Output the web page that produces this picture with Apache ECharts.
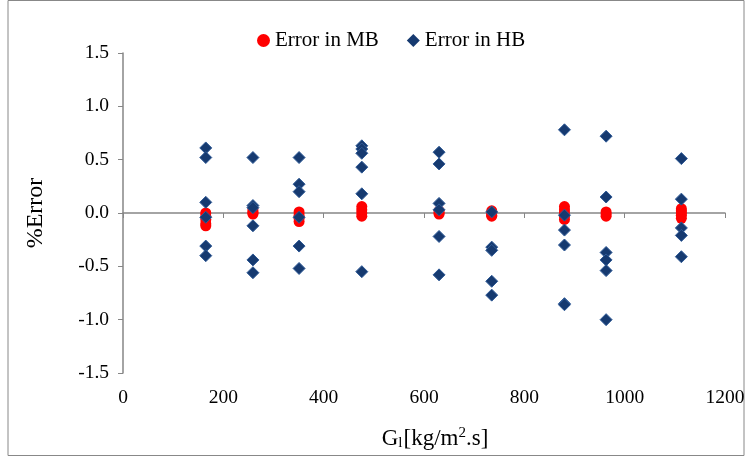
<!DOCTYPE html>
<html>
<head>
<meta charset="utf-8">
<script src="https://cdn.jsdelivr.net/npm/echarts@6/dist/echarts.min.js"></script>
<style>
  html, body { margin: 0; padding: 0; background: #fff; }
  #chart { width: 750px; height: 457px; }
</style>
</head>
<body>
<div id="chart"></div>
<script>
// mass flux of each test group, kg/m2.s
const gFlux = [165, 259, 351, 476, 630, 735, 880, 963, 1113];

// % error per group
const errMB = [
  [0.0, -0.03, -0.06, -0.1, -0.12],
  [0.03, 0.01, 0.0, -0.01],
  [0.01, -0.02, -0.05, -0.08],
  [0.06, 0.03, 0.0, -0.03],
  [0.02, 0.0, -0.01],
  [0.02, 0.0, -0.02, -0.03],
  [0.06, 0.03, 0.0, -0.03, -0.06],
  [0.01, -0.01, -0.03],
  [0.04, 0.02, 0.0, -0.02, -0.05]
];
const errHB = [
  [0.61, 0.52, 0.10, -0.04, -0.31, -0.40],
  [0.52, 0.07, 0.05, -0.12, -0.44, -0.56],
  [0.52, 0.27, 0.20, -0.04, -0.31, -0.52],
  [0.63, 0.60, 0.56, 0.43, 0.18, -0.55],
  [0.57, 0.46, 0.09, 0.03, -0.22, -0.58],
  [0.01, -0.32, -0.35, -0.64, -0.77],
  [0.78, -0.02, -0.16, -0.30, -0.85, -0.86],
  [0.72, 0.15, -0.37, -0.44, -0.54, -1.0],
  [0.51, 0.13, -0.14, -0.21, -0.41]
];

const xTicks = { min: 0, max: 1200, interval: 200 };
const yTicks = { min: -1.5, max: 1.5, interval: 0.5 };

const toPoints = (groups) => groups.flatMap((vals, i) => vals.map(v => [gFlux[i], v]));

const font = 'Liberation Serif, Times New Roman, serif';
const chart = echarts.init(document.getElementById('chart'));

chart.setOption({
  animation: false,
  textStyle: { fontFamily: font },
  graphic: [{
    type: 'rect',
    shape: { x: 8, y: 0.5, width: 736, height: 455 },
    style: { fill: 'none', stroke: '#888', lineWidth: 1 }
  }],
  legend: {
    top: 25,
    left: 252,
    itemGap: 28,
    itemWidth: 13,
    itemHeight: 13,
    textStyle: { fontFamily: font, fontSize: 21, color: '#000' },
    data: [
      { name: 'Error in MB', icon: 'circle' },
      { name: 'Error in HB', icon: 'diamond', itemStyle: { borderWidth: 0 } }
    ]
  },
  grid: { left: 123, right: 25, top: 53, bottom: 84 },
  xAxis: [
    {
      type: 'value',
      min: xTicks.min, max: xTicks.max, interval: xTicks.interval,
      axisLine: { show: false, onZero: false },
      axisTick: { show: false },
      axisLabel: { color: '#000', fontSize: 19.5, margin: 15, formatter: v => String(v) },
      splitLine: { show: false },
      name: '{g|G}{s|l}{g|[kg/m}{p|2}{g|.s]}',
      nameLocation: 'middle',
      nameGap: 53,
      nameTextStyle: {
        padding: [0, 0, 0, 22],
        rich: {
          g: { fontFamily: font, fontSize: 23, color: '#000' },
          s: { fontFamily: font, fontSize: 15, color: '#000', verticalAlign: 'bottom', padding: [10, 1, 0, 0] },
          p: { fontFamily: font, fontSize: 15, color: '#000', verticalAlign: 'top', padding: [0, 0, 8, 0] }
        }
      }
    },
    {
      type: 'value',
      position: 'bottom',
      min: xTicks.min, max: xTicks.max, interval: xTicks.interval,
      axisLine: { show: true, onZero: true, lineStyle: { color: '#868686', width: 1.5 } },
      axisTick: { show: true, length: 5, lineStyle: { color: '#868686' } },
      axisLabel: { show: false },
      splitLine: { show: false }
    }
  ],
  yAxis: {
    type: 'value',
    min: yTicks.min, max: yTicks.max, interval: yTicks.interval,
    axisLine: { show: true, lineStyle: { color: '#868686', width: 1.5 } },
    axisTick: { show: true, length: 5, lineStyle: { color: '#868686' } },
    axisLabel: { color: '#000', fontSize: 19.5, margin: 14, formatter: v => v.toFixed(1) },
    splitLine: { show: false },
    name: '%Error',
    nameLocation: 'middle',
    nameGap: 75,
    nameTextStyle: { fontFamily: font, fontSize: 24, color: '#000' }
  },
  series: [
    {
      name: 'Error in MB',
      type: 'scatter',
      symbol: 'circle',
      symbolSize: 11,
      itemStyle: { color: '#ff0000', opacity: 1 },
      data: toPoints(errMB)
    },
    {
      name: 'Error in HB',
      type: 'scatter',
      symbol: 'diamond',
      symbolSize: 12,
      itemStyle: { color: '#163a70', borderColor: '#2f5a96', borderWidth: 1, opacity: 1 },
      data: toPoints(errHB)
    }
  ]
});
</script>
</body>
</html>
